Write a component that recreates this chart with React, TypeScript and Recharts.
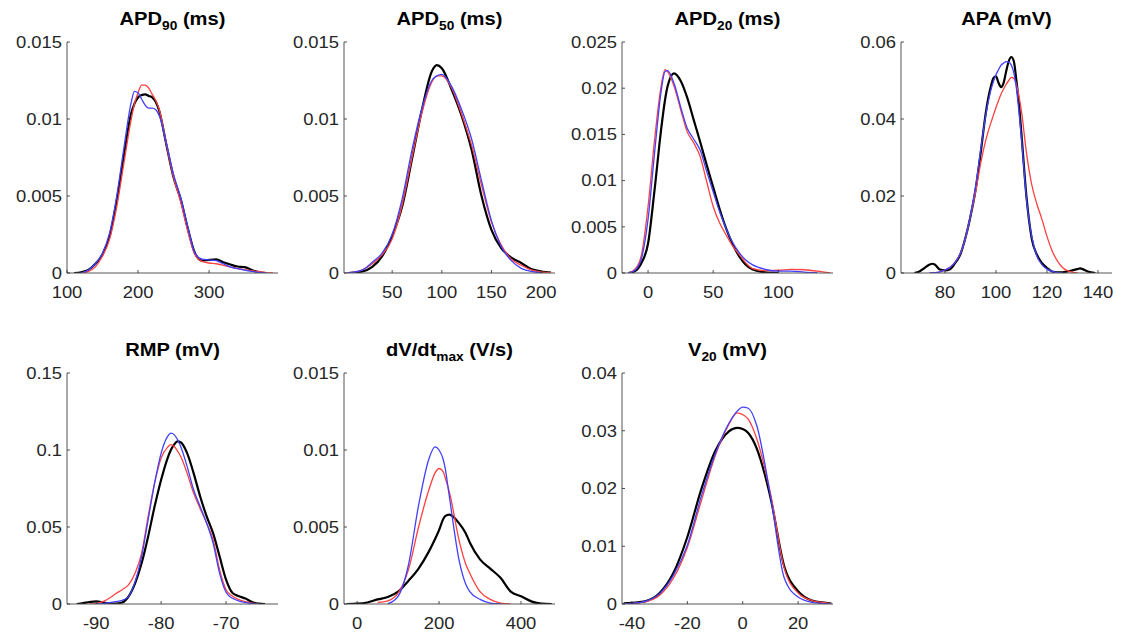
import { LineChart, Line, XAxis, YAxis } from 'recharts';

// ---- APD90 ----
const apd90X = [110, 120, 130, 140, 150, 160, 170, 180, 190, 195, 200, 205, 210, 215, 220, 225, 230, 240, 250, 260, 270, 280, 290, 300, 310, 320, 330, 340, 350, 360, 370, 380, 390];
const apd90Black = [0, 0.00005, 0.0002, 0.0006, 0.0012, 0.0024, 0.0047, 0.0076, 0.0103, 0.011, 0.0114, 0.01155, 0.0116, 0.0115, 0.0114, 0.0111, 0.0105, 0.0083, 0.0062, 0.0048, 0.0029, 0.0013, 0.0008, 0.00085, 0.00088, 0.0007, 0.00055, 0.00042, 0.00038, 0.0002, 0.00005, 0, null];
const apd90Red = [null, 0, 0.0001, 0.0004, 0.0011, 0.0022, 0.0043, 0.0071, 0.0099, 0.011, 0.0117, 0.0122, 0.0122, 0.012, 0.0116, 0.0112, 0.0106, 0.0083, 0.0062, 0.0046, 0.0027, 0.0012, 0.00075, 0.00065, 0.0006, 0.0005, 0.00038, 0.0003, 0.00022, 0.00015, 0.0001, 0.00003, 0];
const apd90Blue = [null, 0, 0.0002, 0.0006, 0.0013, 0.0026, 0.005, 0.0081, 0.011, 0.0118, 0.0117, 0.0113, 0.0109, 0.0107, 0.0107, 0.0106, 0.0102, 0.0084, 0.0064, 0.0049, 0.003, 0.0013, 0.0009, 0.00085, 0.0008, 0.0006, 0.0004, 0.00028, 0.00018, 0.0001, 0.00004, 0, null];

// ---- APD50 ----
const apd50X = [5, 15, 20, 30, 40, 50, 60, 70, 80, 90, 95, 100, 110, 120, 130, 140, 150, 160, 170, 180, 190, 200, 210];
const apd50Black = [0, 0.00005, 0.0001, 0.0004, 0.0011, 0.0024, 0.0043, 0.0074, 0.0106, 0.0131, 0.0135, 0.0133, 0.0119, 0.0102, 0.008, 0.005, 0.0028, 0.0016, 0.001, 0.00065, 0.00026, 0.0001, 0.00002];
const apd50Red = [0, 0.0001, 0.0002, 0.0006, 0.0012, 0.0022, 0.0044, 0.0075, 0.0104, 0.0124, 0.0128, 0.0128, 0.012, 0.0103, 0.0083, 0.0057, 0.0033, 0.0018, 0.0009, 0.0005, 0.0002, 0.00007, 0.00002];
const apd50Blue = [0, 0.0001, 0.0002, 0.0007, 0.0013, 0.0025, 0.0048, 0.008, 0.0107, 0.0125, 0.0128, 0.0129, 0.0121, 0.0106, 0.0087, 0.006, 0.0034, 0.0017, 0.0008, 0.0003, 0.0001, 0.00002, null];

// ---- APD20 ----
const apd20X = [-15, -10, -5, 0, 5, 10, 13, 15, 20, 25, 30, 35, 40, 45, 50, 55, 60, 65, 70, 75, 80, 90, 100, 110, 120, 130, 140];
const apd20Black = [0, 0.0002, 0.0011, 0.0032, 0.009, 0.0155, 0.0187, 0.0202, 0.0216, 0.0208, 0.019, 0.0166, 0.0142, 0.0117, 0.0093, 0.0069, 0.0048, 0.0031, 0.0018, 0.0009, 0.0004, 0.00007, 0, null, null, null, null];
const apd20Red = [0, 0.0004, 0.002, 0.0072, 0.0144, 0.0202, 0.022, 0.0218, 0.0202, 0.0177, 0.0153, 0.0141, 0.0126, 0.0099, 0.0072, 0.0054, 0.0041, 0.0029, 0.002, 0.0011, 0.0005, 0.00025, 0.0003, 0.0004, 0.00035, 0.0002, 0];
const apd20Blue = [0, 0.0003, 0.0016, 0.0058, 0.013, 0.0196, 0.0218, 0.0219, 0.0205, 0.018, 0.0157, 0.0145, 0.0133, 0.011, 0.0088, 0.0066, 0.0048, 0.0033, 0.0022, 0.0014, 0.0009, 0.0004, 0.0002, 0.0002, 0.0001, 0.00003, null];

// ---- APA ----
const apaX = [68, 70, 72, 74, 75, 76, 78, 80, 82, 84, 86, 88, 90, 92, 94, 96, 98, 99, 100, 101, 102, 103, 104, 105, 106, 107, 108, 109, 110, 112, 114, 116, 118, 120, 122, 124, 126, 128, 130, 132, 133, 134, 136, 138, 139];
const apaBlack = [0, 0.0004, 0.0013, 0.0022, 0.0024, 0.0022, 0.0009, 0.0007, 0.001, 0.0026, 0.0048, 0.0091, 0.0147, 0.0216, 0.0312, 0.0416, 0.0485, 0.0506, 0.0511, 0.0494, 0.0483, 0.0494, 0.0524, 0.055, 0.0561, 0.055, 0.05, 0.044, 0.036, 0.0195, 0.009, 0.0048, 0.0026, 0.0013, 0.0004, 0.0002, 0.0002, 0.0004, 0.0007, 0.001, 0.0012, 0.001, 0.0004, 0.0001, 0];
const apaRed = [null, null, null, 0, 0.00005, 0.0001, 0.0003, 0.0008, 0.0015, 0.0028, 0.005, 0.009, 0.0148, 0.021, 0.0285, 0.0345, 0.039, 0.041, 0.043, 0.0448, 0.0465, 0.0478, 0.049, 0.05, 0.0508, 0.0505, 0.049, 0.046, 0.042, 0.031, 0.023, 0.018, 0.014, 0.0095, 0.0058, 0.0032, 0.0015, 0.0006, 0.0002, 0, null, null, null, null, null];
const apaBlue = [null, null, null, 0, 0.00005, 0.0001, 0.0003, 0.0008, 0.0015, 0.0028, 0.005, 0.009, 0.015, 0.0225, 0.032, 0.041, 0.0475, 0.0497, 0.0515, 0.0528, 0.054, 0.0545, 0.0549, 0.0548, 0.054, 0.052, 0.048, 0.042, 0.035, 0.019, 0.0095, 0.0045, 0.0022, 0.001, 0.0004, 0.0001, 0, null, null, null, null, null, null, null, null];

// ---- RMP ----
const rmpX = [-93, -92, -91, -90, -89, -88, -87, -86, -85, -84, -83, -82, -81, -80, -79, -78.5, -78, -77.5, -77, -76, -75, -74, -73, -72, -71, -70, -69, -68, -67, -66, -65, -64];
const rmpBlack = [0, 0.0006, 0.0013, 0.0017, 0.0011, 0.0002, 0.0002, 0.001, 0.005, 0.0136, 0.0266, 0.0439, 0.0634, 0.0807, 0.0948, 0.1, 0.1035, 0.1056, 0.105, 0.098, 0.085, 0.07, 0.057, 0.046, 0.031, 0.0158, 0.0071, 0.005, 0.0035, 0.0013, 0.0002, 0];
const rmpRed = [null, null, 0, 0.0002, 0.0015, 0.0037, 0.0067, 0.0093, 0.0126, 0.0201, 0.0331, 0.0569, 0.0786, 0.0948, 0.1019, 0.1035, 0.1024, 0.0995, 0.0959, 0.085, 0.072, 0.062, 0.0526, 0.0418, 0.0223, 0.0093, 0.005, 0.0028, 0.0015, 0.0006, 0, null];
const rmpBlue = [null, null, null, 0, 0.0003, 0.0008, 0.0015, 0.0024, 0.005, 0.0147, 0.031, 0.0548, 0.0786, 0.098, 0.1089, 0.111, 0.11, 0.107, 0.1024, 0.0894, 0.0742, 0.0634, 0.0526, 0.0396, 0.0201, 0.0076, 0.0037, 0.0019, 0.001, 0.0002, 0, null];

// ---- dV/dt max ----
const dvdtX = [-25, 0, 25, 50, 75, 100, 125, 150, 175, 190, 200, 210, 215, 225, 250, 265, 275, 300, 325, 350, 375, 400, 425, 450, 475];
const dvdtBlack = [0, 0.00002, 0.0001, 0.0003, 0.00045, 0.0008, 0.0015, 0.0023, 0.0034, 0.0042, 0.0048, 0.0055, 0.0057, 0.0058, 0.0052, 0.0046, 0.004, 0.0029, 0.0023, 0.0017, 0.0008, 0.0005, 0.00017, 0.00002, 0];
const dvdtRed = [null, null, null, 0.0001, 0.0002, 0.0007, 0.0022, 0.005, 0.0074, 0.0085, 0.0088, 0.0086, 0.0082, 0.0073, 0.004, 0.0026, 0.002, 0.0008, 0.0003, 0.00006, 0, null, null, null, null];
const dvdtBlue = [null, null, null, null, 0.00002, 0.0005, 0.0025, 0.0064, 0.0094, 0.0102, 0.01, 0.0094, 0.0088, 0.007, 0.0027, 0.0013, 0.0008, 0.0003, 0.00006, 0, null, null, null, null, null];

// ---- V20 ----
const v20X = [-43, -40, -35, -30, -25, -20, -15, -10, -5, -2, 0, 2, 5, 10, 15, 20, 25, 30, 32];
const v20Black = [0.0001, 0.0002, 0.0005, 0.0019, 0.0054, 0.0116, 0.0198, 0.0264, 0.0299, 0.0305, 0.0303, 0.0296, 0.027, 0.0185, 0.0065, 0.0022, 0.0006, 0.0002, 0.00005];
const v20Red = [0, 0.0001, 0.0004, 0.0015, 0.0045, 0.0098, 0.0178, 0.0256, 0.0311, 0.0331, 0.0328, 0.032, 0.0287, 0.0192, 0.0062, 0.0019, 0.0006, 0.0002, 0.00005];
const v20Blue = [0, 0.0001, 0.0005, 0.0018, 0.005, 0.0102, 0.0186, 0.0259, 0.0313, 0.0334, 0.0341, 0.0339, 0.031, 0.0188, 0.0045, 0.0012, 0.0003, 0.00005, 0];

const AX = '#262626';
const FONT = 'Arial, "Liberation Sans", Helvetica, sans-serif';
const PLOT_W = 211;
const PLOT_H = 231;
const colLeft = [67, 344, 622, 901];
const rowTop = [42, 373];

function YTick({ x, y, payload }: any) {
  return (
    <g>
      <line x1={x} x2={x + 3} y1={y} y2={y} stroke={AX} strokeWidth={0.8} />
      <text transform={`translate(${x - 5},${y}) scale(1.15,1)`} textAnchor="end" dy="0.36em" fontSize={16} fill={AX} fontFamily={FONT}>
        {String(payload.value)}
      </text>
    </g>
  );
}

function XTick({ x, y, payload }: any) {
  return (
    <g>
      <line x1={x} x2={x} y1={y} y2={y - 3} stroke={AX} strokeWidth={0.8} />
      <text transform={`translate(${x},${y + 25}) scale(1.15,1)`} textAnchor="middle" fontSize={16} fill={AX} fontFamily={FONT}>
        {String(payload.value)}
      </text>
    </g>
  );
}

interface PanelProps {
  col: number;
  row: number;
  title: string;
  sub?: string;
  unit: string;
  xs: number[];
  black: (number | null)[];
  red: (number | null)[];
  blue: (number | null)[];
  xDomain: [number, number];
  xTicks: number[];
  yTicks: number[];
}

function Panel({ col, row, title, sub, unit, xs, black, red, blue, xDomain, xTicks, yTicks }: PanelProps) {
  const data = xs.map((x, i) => ({ x, k: black[i], r: red[i], b: blue[i] }));
  const left = colLeft[col];
  const top = rowTop[row];
  return (
    <>
      <div
        style={{
          position: 'absolute',
          left,
          top: top - 31,
          width: PLOT_W,
          textAlign: 'center',
          fontFamily: FONT,
          fontWeight: 'bold',
          fontSize: 17.5,
          lineHeight: 1,
          whiteSpace: 'nowrap',
          color: '#000',
          transform: 'scaleX(1.15)',
        }}
      >
        {title}
        {sub && <span style={{ fontSize: '0.68em', verticalAlign: '-0.42em' }}>{sub}</span>}
        {' '}{unit}
      </div>
      <div style={{ position: 'absolute', left: left - 60, top: top - 40 }}>
        <LineChart width={PLOT_W + 70} height={PLOT_H + 80} data={data} margin={{ top: 40, right: 10, left: 0, bottom: 0 }}>
          <XAxis
            type="number"
            dataKey="x"
            domain={xDomain}
            ticks={xTicks}
            allowDataOverflow
            interval={0}
            height={40}
            tickSize={0}
            tickMargin={0}
            tickLine={false}
            axisLine={{ stroke: '#555', strokeWidth: 1 }}
            tick={<XTick />}
          />
          <YAxis
            type="number"
            domain={[0, yTicks[yTicks.length - 1]]}
            ticks={yTicks}
            allowDataOverflow
            interval={0}
            width={60}
            tickSize={0}
            tickMargin={0}
            tickLine={false}
            axisLine={{ stroke: '#555', strokeWidth: 1 }}
            tick={<YTick />}
          />
          <Line type="monotone" dataKey="k" stroke="#000000" strokeWidth={2.2} dot={false} isAnimationActive={false} />
          <Line type="monotone" dataKey="r" stroke="#ff4040" strokeWidth={1.3} dot={false} isAnimationActive={false} />
          <Line type="monotone" dataKey="b" stroke="#4040ff" strokeWidth={1.3} dot={false} isAnimationActive={false} />
        </LineChart>
      </div>
    </>
  );
}

export default function App() {
  return (
    <div style={{ position: 'absolute', left: 0, top: 0, width: 1121, height: 637, background: '#fff', overflow: 'hidden' }}>
      <Panel col={0} row={0} title="APD" sub="90" unit="(ms)" xs={apd90X} black={apd90Black} red={apd90Red} blue={apd90Blue}
        xDomain={[100, 397]} xTicks={[100, 200, 300]} yTicks={[0, 0.005, 0.01, 0.015]} />
      <Panel col={1} row={0} title="APD" sub="50" unit="(ms)" xs={apd50X} black={apd50Black} red={apd50Red} blue={apd50Blue}
        xDomain={[1.5, 214]} xTicks={[50, 100, 150, 200]} yTicks={[0, 0.005, 0.01, 0.015]} />
      <Panel col={2} row={0} title="APD" sub="20" unit="(ms)" xs={apd20X} black={apd20Black} red={apd20Red} blue={apd20Blue}
        xDomain={[-20, 142]} xTicks={[0, 50, 100]} yTicks={[0, 0.005, 0.01, 0.015, 0.02, 0.025]} />
      <Panel col={3} row={0} title="APA" unit="(mV)" xs={apaX} black={apaBlack} red={apaRed} blue={apaBlue}
        xDomain={[62.75, 145.5]} xTicks={[80, 100, 120, 140]} yTicks={[0, 0.02, 0.04, 0.06]} />
      <Panel col={0} row={1} title="RMP" unit="(mV)" xs={rmpX} black={rmpBlack} red={rmpRed} blue={rmpBlue}
        xDomain={[-94.5, -62]} xTicks={[-90, -80, -70]} yTicks={[0, 0.05, 0.1, 0.15]} />
      <Panel col={1} row={1} title="dV/dt" sub="max" unit="(V/s)" xs={dvdtX} black={dvdtBlack} red={dvdtRed} blue={dvdtBlue}
        xDomain={[-32, 483]} xTicks={[0, 200, 400]} yTicks={[0, 0.005, 0.01, 0.015]} />
      <Panel col={2} row={1} title="V" sub="20" unit="(mV)" xs={v20X} black={v20Black} red={v20Red} blue={v20Blue}
        xDomain={[-43.6, 32.6]} xTicks={[-40, -20, 0, 20]} yTicks={[0, 0.01, 0.02, 0.03, 0.04]} />
      <div style={{ position: 'absolute', left: 0, top: 629, width: 1121, height: 8, background: '#fff' }} />
    </div>
  );
}
